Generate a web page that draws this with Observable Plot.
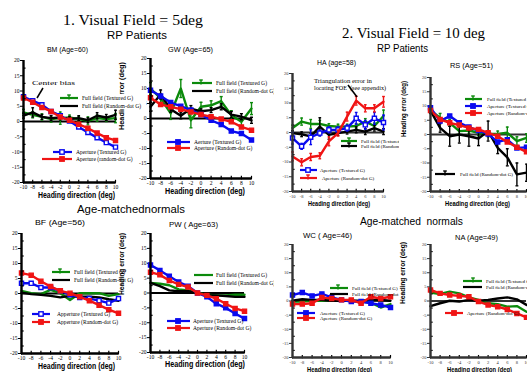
<!DOCTYPE html>
<html><head><meta charset="utf-8">
<script src="https://cdn.jsdelivr.net/npm/d3@7"></script>
<script src="https://cdn.jsdelivr.net/npm/@observablehq/plot@0.6"></script>
<style>
html,body{margin:0;padding:0;background:#fff;}
#root{position:relative;width:527px;height:372px;overflow:hidden;background:#fff;}
#root > svg{position:absolute;}
</style></head><body><div id="root"></div>
<script>
// ---------- data ----------
const heading = [-10,-8,-6,-4,-2,0,2,4,6,8,10];
const yTicks = [-20,-15,-10,-5,0,5,10,15,20];
const yMinorTicks = [-17.5,-12.5,-7.5,-2.5,2.5,7.5,12.5,17.5];

// BM (Age=60)
const bmFullTextured = [3.0,2.2,1.5,0.8,1.1,1.3,0.8,0.2,1.1,0.8,1.1];
const bmFullTexturedErr = [1,1,1,1,2,0.8,0.8,1.3,1,0.8,1.5];
const bmFullRandom = [1.9,3.0,1.5,1.1,1.3,0.8,1.1,0.4,1.9,1.3,2.2];
const bmFullRandomErr = [0.8,1.5,0.8,0.8,0.8,0.8,0.8,0.8,1,1,1.5];
const bmApTextured = [8.1,6.8,5.5,3.3,1.9,0.2,-1.8,-3.6,-5.3,-6.9,-8.4];
const bmApRandom = [7.7,6.3,4.6,3.3,1.5,0.4,-0.9,-2.2,-3.8,-5.3,-6.2];

// GW (Age=65)
const gwFullTextured = [10,6.7,1.7,10,-0.6,3.9,4.4,5.8,1.1,-1.1,3.3];
const gwFullTexturedErr = [2,1.5,2,3,2.5,1.5,1.5,1.5,1.5,1.5,2];
const gwFullRandom = [3.9,8.0,3.1,0.9,3.3,2.4,2.8,3.9,1.3,0.6,-0.6];
const gwFullRandomErr = [1.5,1.5,1,1,1,0.8,0.8,1,1,1,1];
const gwApTextured = [9.4,7.5,5.3,4.1,2.8,1.3,-0.6,-2.0,-4.2,-5.0,-7.2];
const gwApRandom = [6.9,4.7,3.9,3.1,2.2,1.3,0.6,-0.2,-1.1,-2.8,-3.9];

// HA (age=58)
const haFullTextured = [1.5,3.7,2.9,2.9,2.2,2.0,2.0,2.2,3.7,2.2,5.6];
const haFullTexturedErr = [1,1.2,1.5,1.2,0.8,0.8,0.8,0.8,1,1,2];
const haFullRandom = [-0.2,-0.6,-1.3,2.0,-0.8,-0.2,0.3,0.9,0.3,1.5,0.3];
const haFullRandomErr = [0.8,0.8,1,3,1.5,0.8,0.8,1,1,1,1];
const haApTextured = [-1.9,-4.7,-1.6,-0.2,0.9,0.9,1.5,4.8,2.6,4.8,3.4];
const haApTexturedErr = [2,1,2.5,1,1,1,1,2,1.5,2,2.5];
const haApRandom = [-8.1,-10.1,-8.3,-7.9,-3.0,-0.2,5.4,10.8,8.2,8.2,10.4];
const haApRandomErr = [1.5,1.2,1.2,1,1.5,1,1.5,1.5,1.2,1.2,1.8];

// RS (Age=51)
const rsFullTextured = [8.4,5.9,4.1,1.2,1.4,0.6,0.2,0.2,0.6,-2.3,-1.2];
const rsFullTexturedErr = [1,1.5,1.2,1.5,1,1,1,1,2,1.5,1.5];
const rsFullRandom = [8.4,2.3,-0.6,0,-0.6,-1.4,1.2,-4.7,-8.0,-14,-13.4];
const rsFullRandomErr = [1,1.5,3.5,3,3.5,2.5,3.5,2,3,4,3];
const rsApTextured = [9.4,4.7,6.5,4.1,2.6,1.4,0.2,-2.6,-1.8,-4.7,-4.5];
const rsApRandom = [8.4,5.3,4.1,3.3,2.3,1.8,0.6,-0.6,-2.6,-4.5,-6.1];

// BF (Age=56)
const bfFullTextured = [0.9,0.1,-0.2,1.2,0.1,-2.2,0.1,0.1,0.1,-0.8,-0.2];
const bfFullRandom = [0.3,-0.2,-0.4,-0.8,-1.3,-0.8,-1.1,-1.1,-1.3,-1.9,-2.4];
const bfApTextured = [3.4,3.4,2.0,2.0,0.9,-0.4,-1.3,-1.7,-2.4,-3.2,-1.7];
const bfApRandom = [6.8,6.1,4.1,2.3,0.9,0.1,-1.1,-2.4,-3.9,-5.4,-6.6];

// PW ( Age=63)
const pwFullTextured = [3.4,3.1,2.6,1.2,0.9,0,-0.6,-0.8,-0.8,-0.6,-0.6];
const pwFullRandom = [3.4,2.3,0.9,0.6,0.6,0,-0.8,-0.8,-1.0,-1.3,-1.3];
const pwApTextured = [9.4,7.6,5.6,3.7,2.3,0,-1.3,-3.6,-5.0,-6.9,-8.6];
const pwApRandom = [7.0,6.1,4.2,2.9,2.0,0,-0.8,-1.9,-3.6,-5.2,-6.1];

// WC ( Age=46)
const wcFullTextured = [-0.2,-0.2,0.1,0.1,0.4,0.1,0.1,-0.2,-0.6,-2.3,-1.1];
const wcFullRandom = [0.1,0.6,0.4,0.4,0.1,0.1,0.1,0.1,0.4,0.4,0.1];
const wcApTextured = [2.1,3.0,1.8,2.5,1.3,0.4,-0.2,-0.2,-0.8,-1.4,-2.3];
const wcApRandom = [-1.1,-1.1,-0.8,1.2,0.9,0.4,0.4,-0.8,1.5,0.9,1.5];

// NA (Age=49)
const naFullTextured = [3.0,2.5,3.3,2.7,1.3,0.4,-0.8,-1.1,-2.0,-1.8,-3.8];
const naFullRandom = [-1.8,-0.8,0.1,-0.2,0.4,0.1,0.4,0.9,1.3,0.6,-1.4];
const naApRandom = [3.9,2.7,2.1,1.8,1.5,-0.2,-1.4,-2.0,-3.0,-4.4,-5.8];

// ---------- styles / layout ----------
const C = {green:"#0b8a0b", black:"#000000", blue:"#0a0af0", red:"#f01414"};

const panels = [
 {box:[23,115,60,182], small:false, series:[
   {v:bmFullTextured, e:bmFullTexturedErr, c:"green"},
   {v:bmFullRandom, e:bmFullRandomErr, c:"black"},
   {v:bmApTextured, c:"blue", m:"open"},
   {v:bmApRandom, c:"red", m:"filled"}]},
 {box:[150,251,58,178], small:false, series:[
   {v:gwFullTextured, e:gwFullTexturedErr, c:"green"},
   {v:gwFullRandom, e:gwFullRandomErr, c:"black"},
   {v:gwApTextured, c:"blue", m:"filled"},
   {v:gwApRandom, c:"red", m:"filled"}]},
 {box:[292,383,73,191], small:true, series:[
   {v:haFullTextured, e:haFullTexturedErr, c:"green"},
   {v:haFullRandom, e:haFullRandomErr, c:"black"},
   {v:haApTextured, e:haApTexturedErr, c:"blue", m:"open"},
   {v:haApRandom, e:haApRandomErr, c:"red"}]},
 {box:[430,526,77,191], small:true, series:[
   {v:rsFullTextured, e:rsFullTexturedErr, c:"green"},
   {v:rsFullRandom, e:rsFullRandomErr, c:"black"},
   {v:rsApTextured, c:"blue", m:"filled"},
   {v:rsApRandom, c:"red", m:"filled"}]},
 {box:[21,118,233,353], small:false, series:[
   {v:bfFullTextured, c:"green"},
   {v:bfFullRandom, c:"black"},
   {v:bfApTextured, c:"blue", m:"open"},
   {v:bfApRandom, c:"red", m:"filled"}]},
 {box:[150,244,233,352], small:false, series:[
   {v:pwFullTextured, c:"green"},
   {v:pwFullRandom, c:"black"},
   {v:pwApTextured, c:"blue", m:"filled"},
   {v:pwApRandom, c:"red", m:"filled"}]},
 {box:[292,390,244,357], small:true, series:[
   {v:wcFullTextured, c:"green"},
   {v:wcFullRandom, c:"black"},
   {v:wcApTextured, c:"blue", m:"filled"},
   {v:wcApRandom, c:"red", m:"filled"}]},
 {box:[430,526,244,357], small:true, series:[
   {v:naFullTextured, c:"green"},
   {v:naFullRandom, c:"black"},
   {v:naApRandom, c:"red", m:"filled"}]}
];

const root = document.getElementById("root");
const M = {l:16, r:8, t:4, b:20};
for (const p of panels) {
  const [x0,x1,yT,yB] = p.box;
  const W = x1-x0+M.l+M.r, H = yB-yT+M.t+M.b;
  const marks = [];
  for (const s of p.series) {
    const rows = heading.map((h,i)=>({h, v:s.v[i], e: s.e ? s.e[i] : 0}));
    const col = C[s.c];
    if (s.e) {
      marks.push(Plot.ruleX(rows, {x:"h", y1:d=>d.v-d.e, y2:d=>d.v+d.e, stroke:col, strokeWidth:1.4}));
      marks.push(Plot.link(rows, {x1:d=>d.h-0.3, x2:d=>d.h+0.3, y1:d=>d.v+d.e, y2:d=>d.v+d.e, stroke:col, strokeWidth:1.4}));
      marks.push(Plot.link(rows, {x1:d=>d.h-0.3, x2:d=>d.h+0.3, y1:d=>d.v-d.e, y2:d=>d.v-d.e, stroke:col, strokeWidth:1.4}));
    }
    marks.push(Plot.line(rows, {x:"h", y:"v", stroke:col, strokeWidth:2.4}));
    if (s.m) marks.push(Plot.dot(rows, {x:"h", y:"v", symbol:"square", r:2.3,
      fill: s.m==="open" ? "white" : col, stroke: col, strokeWidth:1.4}));
  }
  const xMin = heading[0];
  const yMin = yTicks[0];
  const svg = Plot.plot({
    width: W, height: H, marginLeft: M.l, marginRight: M.r, marginTop: M.t, marginBottom: M.b,
    style: {fontFamily:"'Liberation Serif', serif", fontSize: p.small ? "4.5px" : "5.6px",
            background:"transparent", overflow:"visible", color: p.small ? "#333" : "#000"},
    x: {domain:[xMin, heading[heading.length-1]], ticks: heading, tickFormat: d=>String(d), tickSize:1.5, tickPadding:1.5, label:null},
    y: {domain:[yMin, yTicks[yTicks.length-1]], ticks: yTicks, tickFormat: d=>String(d), tickSize:3, tickPadding:1, label:null},
    marks: [
      Plot.ruleY([0], {strokeWidth:2.2}),
      ...marks,
      // inward minor ticks on the y axis and inward ticks on the x axis
      Plot.link(yMinorTicks, {x1:xMin, x2:xMin + 0.45, y1:d=>d, y2:d=>d, stroke:"#000", strokeWidth:1.2}),
      Plot.link(heading, {x1:d=>d, x2:d=>d, y1:yMin, y2:yMin + 0.9, stroke:"#000", strokeWidth:1.2}),
      Plot.ruleX([xMin], {strokeWidth:2.4}),
      Plot.ruleY([yMin], {strokeWidth:2.4})
    ]
  });
  svg.style.left = (x0 - M.l) + "px";
  svg.style.top = (yT - M.t) + "px";
  root.appendChild(svg);
}

// ---------- overlay text: titles, labels, legends ----------
const ov = d3.create("svg").attr("width",527).attr("height",372)
  .style("left","0px").style("top","0px").style("overflow","hidden");
const defs = ov.append("defs");
[["clipA",274],["clipB",399],["clipC",527]].forEach(([id,w]) =>
  defs.append("clipPath").attr("id",id).append("rect").attr("x",0).attr("y",0).attr("width",w).attr("height",372));

const SERIF = "'Liberation Serif', 'Times New Roman', serif";
const SANS = "'Liberation Sans', Arial, sans-serif";

function txt(g, s, x, y, o) {
  const t = g.append("text").attr("x",x).attr("y",y).text(s)
    .attr("font-family", o.serif ? SERIF : SANS).attr("font-size", o.size)
    .attr("text-anchor", o.anchor || "middle").attr("fill","#000")
    .style("white-space","pre");
  if (o.bold) t.attr("font-weight","bold");
  if (o.len) t.attr("textLength", o.len).attr("lengthAdjust","spacingAndGlyphs");
  return t;
}

const titles = [
  ["1. Visual Field = 5deg", 133, 25, {serif:true, size:15, len:140}],
  ["RP Patients", 137, 39, {size:10.5, len:60}],
  ["BM (Age=60)", 67.5, 52, {size:7, len:41}],
  ["GW (Age=65)", 190.5, 52, {size:7, len:45}],
  ["2. Visual Field = 10 deg", 413.5, 37.5, {serif:true, size:15, len:143}],
  ["RP Patients", 402.5, 51.5, {size:10.5, len:51}],
  ["HA (age=58)", 336.5, 65, {size:7, len:39}],
  ["RS (Age=51)", 471.5, 68, {size:7, len:43}],
  ["Age-matchednormals", 131, 213, {size:11.5, len:108}],
  ["BF (Age=56)", 60, 225, {size:7, len:50}],
  ["PW ( Age=63)", 193.5, 227, {size:7, len:49}],
  ["Age-matched  normals", 411.5, 225, {size:11.5, len:103}],
  ["WC ( Age=46)", 327.5, 238, {size:7, len:49}],
  ["NA (Age=49)", 476.5, 240, {size:7, len:43}],
  ["Heading direction (deg)", 76.5, 197.5, {size:8.5, bold:true, len:77}],
  ["Heading direction (deg)", 205, 194, {size:8.5, bold:true, len:80}],
  ["Heading direction (deg)", 339, 206, {size:7, bold:true, len:62}],
  ["Heading direction (deg)", 477.5, 206, {size:7, bold:true, len:65}],
  ["Heading direction (deg)", 76.5, 368.5, {size:8.5, bold:true, len:77}],
  ["Heading direction (deg)", 205, 367, {size:8.5, bold:true, len:80}],
  ["Heading direction (deg)", 339.5, 371.5, {size:7, bold:true, len:65}],
  ["Heading direction (deg)", 479.5, 371.5, {size:7, bold:true, len:65}]
];
const tg = ov.append("g");

// rotated y labels (only the ones visible in the figure)
const yLabels = [[121,96,68,8],[403,109,56,7],[121,264,62,8],[402,273,62,7]];
for (const [x,y,len,size] of yLabels) {
  tg.append("text").attr("transform",`translate(${x},${y}) rotate(-90)`)
    .attr("text-anchor","middle").attr("dominant-baseline","central")
    .attr("font-family",SANS).attr("font-weight","bold").attr("font-size",size)
    .attr("textLength",len).attr("lengthAdjust","spacingAndGlyphs").text("Heading error (deg)");
}

// legends
const legends = [
 {clip:null, fs:5.6, bg:[80,94,66,15], items:[
  {c:"green", x1:60, x2:78, y:98, m:"plus", mx:69, tx:82, t:"Full field (Textured G)"},
  {c:"black", x1:60, x2:78, y:106, tx:82, t:"Full field (Random-dot G)"},
  {c:"blue", x1:53, x2:72, y:152, m:"open", mx:62, tx:76, t:"Aperture (Textured G)"},
  {c:"red", x1:42, x2:72, y:159, m:"filled", mx:62, tx:76, t:"Aperture (random-dot G)"}]},
 {clip:"clipA", fs:5.6, items:[
  {c:"green", x1:192, x2:212, y:83, m:"plus", mx:201, tx:216, t:"Full field (Textured G)"},
  {c:"black", x1:192, x2:212, y:91, tx:216, t:"Full field (Random-dot G)"},
  {c:"blue", x1:167, x2:190, y:142, m:"filled", mx:178, tx:194, t:"Aerture (Textured G)"},
  {c:"red", x1:167, x2:190, y:148, m:"filled", mx:178, tx:194, t:"Aperture (Random-dot G)"}]},
 {clip:"clipB", fs:5, items:[
  {c:"green", x1:341, x2:357, y:141, m:"plus", mx:349, tx:361, t:"Full field (Textured G)"},
  {c:"black", x1:341, x2:357, y:146, m:"plus", mx:349, tx:361, t:"Full field (Random-dot G)"},
  {c:"blue", x1:300, x2:317, y:170, m:"open", mx:308, tx:320, t:"Aperture (Textured G)"},
  {c:"red", x1:300, x2:317, y:178, m:"plus", mx:308, tx:322, t:"Aperture (Random-dot G)"}]},
 {clip:"clipC", fs:5, items:[
  {c:"green", x1:465, x2:482, y:99, m:"plus", mx:473, tx:487, t:"Full field (Textured G)"},
  {c:"blue", x1:465, x2:482, y:106, m:"filled", mx:473, tx:487, t:"Aperture (Textured G)"},
  {c:"red", x1:465, x2:482, y:113, m:"filled", mx:473, tx:487, t:"Aperture (Random-dot G)"},
  {c:"black", x1:435, x2:455, y:174, m:"plus", mx:445, tx:460, t:"Full field (Random-dot G)"}]},
 {clip:null, fs:5.6, items:[
  {c:"green", x1:52, x2:70, y:272, m:"plus", mx:60, tx:74, t:"Full field (Textured G)"},
  {c:"black", x1:52, x2:70, y:280, tx:74, t:"Full field (Random-dot G)"},
  {c:"blue", x1:32, x2:50, y:314, m:"open", mx:41, tx:57, t:"Apperture (Textured G)"},
  {c:"red", x1:32, x2:50, y:322, m:"filled", mx:41, tx:57, t:"Apperture (Random-dot G)"}]},
 {clip:"clipA", fs:5.6, items:[
  {c:"green", x1:194, x2:213, y:275, tx:216, t:"Full field (Textured G)"},
  {c:"black", x1:194, x2:213, y:283, tx:216, t:"Full field (Random-dot G)"},
  {c:"blue", x1:167, x2:190, y:321, m:"filled", mx:178, tx:193, t:"Aperture (Textured G)"},
  {c:"red", x1:167, x2:190, y:328, m:"filled", mx:178, tx:193, t:"Aperture (Random-dot G)"}]},
 {clip:"clipB", fs:5, items:[
  {c:"green", x1:330, x2:348, y:288, m:"plus", mx:338, tx:352, t:"Full field (Textured G)"},
  {c:"black", x1:330, x2:348, y:294, tx:352, t:"Full field (Random-dot G)"},
  {c:"blue", x1:297, x2:315, y:313, m:"filled", mx:306, tx:320, t:"Anerture (Textured G)"},
  {c:"red", x1:297, x2:315, y:318, m:"filled", mx:306, tx:320, t:"Aperture (Random-dot G)"}]},
 {clip:"clipC", fs:5, items:[
  {c:"green", x1:463, x2:482, y:281, m:"plus", mx:473, tx:486, t:"Full field (Textured G)"},
  {c:"black", x1:463, x2:482, y:287, tx:486, t:"Full field (Random-dot G)"},
  {c:"red", x1:445, x2:463, y:313, m:"filled", mx:454, tx:467, t:"Aperture (Random-dot G)"}]}
];

for (const L of legends) {
  const g = ov.append("g");
  if (L.clip) g.attr("clip-path", `url(#${L.clip})`);
  if (L.bg) g.append("rect").attr("x",L.bg[0]).attr("y",L.bg[1]).attr("width",L.bg[2]).attr("height",L.bg[3]).attr("fill","#fff");
  for (const it of L.items) {
    const col = C[it.c];
    g.append("line").attr("x1",it.x1).attr("x2",it.x2).attr("y1",it.y).attr("y2",it.y)
      .attr("stroke",col).attr("stroke-width",2.2);
    if (it.m === "plus") {
      g.append("line").attr("x1",it.mx).attr("x2",it.mx).attr("y1",it.y-3).attr("y2",it.y+1.5).attr("stroke",col).attr("stroke-width",1.4);
      g.append("line").attr("x1",it.mx-1.8).attr("x2",it.mx+1.8).attr("y1",it.y-3).attr("y2",it.y-3).attr("stroke",col).attr("stroke-width",1.4);
    } else if (it.m) {
      g.append("rect").attr("x",it.mx-2.2).attr("y",it.y-2.2).attr("width",4.4).attr("height",4.4)
        .attr("fill", it.m==="open" ? "#fff" : col).attr("stroke",col).attr("stroke-width",1.4);
    }
    txt(g, it.t, it.tx, it.y+1.8, {serif:true, size:L.fs, anchor:"start"});
  }
}

for (const [s,x,y,o] of titles) txt(tg, s, x, y, o);

// annotations
txt(tg, "Center bias", 32, 85, {serif:true, size:7, anchor:"start", len:43});
tg.append("line").attr("x1",43).attr("y1",88).attr("x2",37).attr("y2",98).attr("stroke","#000").attr("stroke-width",1.5);
txt(tg, "Triangulation error in", 314, 83, {serif:true, size:5.5, anchor:"start", len:58});
txt(tg, "locating FOE  (see appendix)", 314, 89.5, {serif:true, size:5.5, anchor:"start", len:72});
tg.append("line").attr("x1",348).attr("y1",85).attr("x2",357).attr("y2",97).attr("stroke","#000").attr("stroke-width",1.5);

root.appendChild(ov.node());
</script></body></html>
